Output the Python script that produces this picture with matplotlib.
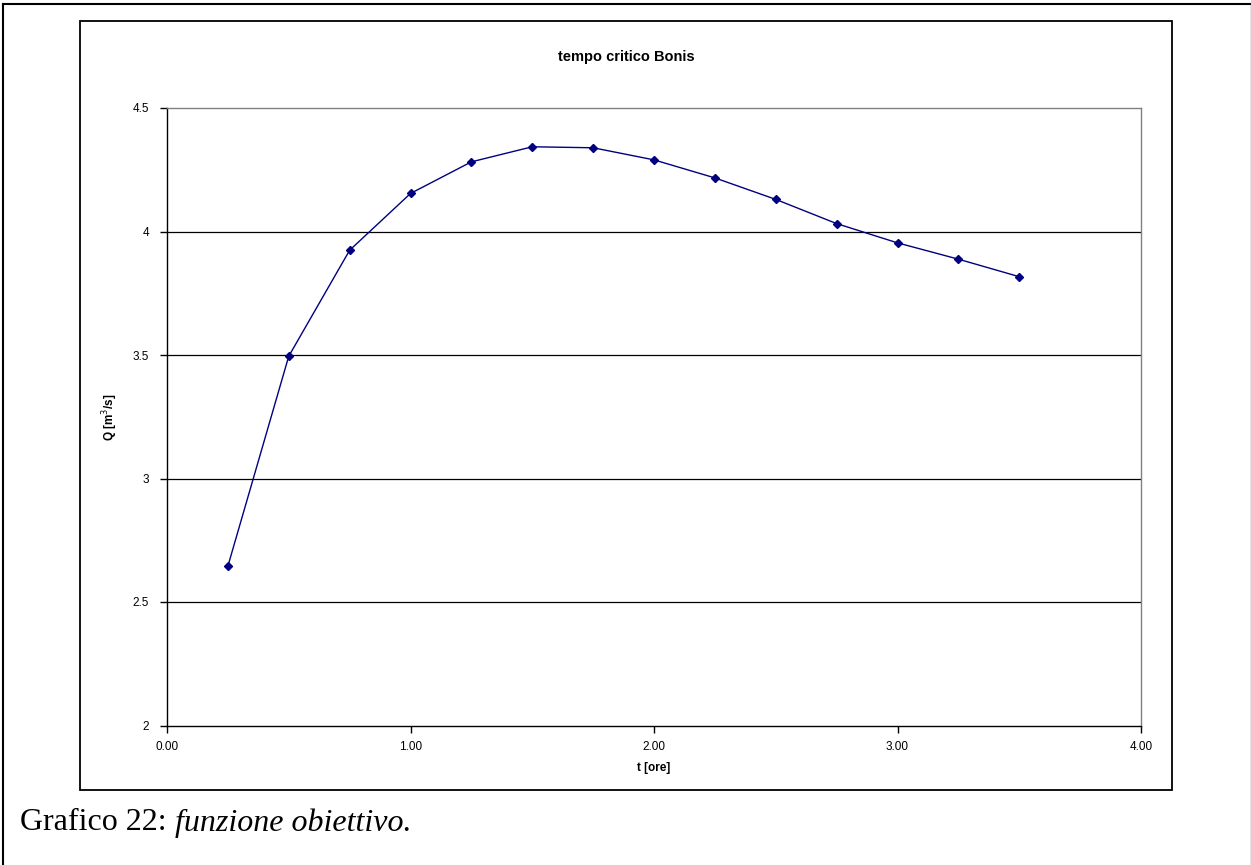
import matplotlib
matplotlib.use('Agg')
from matplotlib import pyplot as plt
from matplotlib.lines import Line2D
import numpy as np

########
# DATA #
########

t_ore = [0.25, 0.50, 0.75, 1.00, 1.25, 1.50, 1.75,
         2.00, 2.25, 2.50, 2.75, 3.00, 3.25, 3.50]
Q = [2.645, 3.495, 3.924, 4.154, 4.282, 4.343, 4.339,
     4.290, 4.217, 4.130, 4.032, 3.954, 3.888, 3.817]

xticks = [0, 1, 2, 3, 4]
xticklabels = ['0.00', '1.00', '2.00', '3.00', '4.00']
yticks = [2, 2.5, 3, 3.5, 4, 4.5]
yticklabels = ['2', '2.5', '3', '3.5', '4', '4.5']

title = 'tempo critico Bonis'
xlabel = 't [ore]'
ylabel = 'Q [m$^3$/s]'

W, H = 1251, 865

plt.rcParams['font.family'] = ['Liberation Sans', 'DejaVu Sans']
fig = plt.figure(figsize=(W/100., H/100.), dpi=100)

def fx(px):
    return px / W

def fy(py):
    return 1 - py / H

# page frame (left, top, right; bottom runs off the page)
fig.add_artist(Line2D([fx(3), fx(3)], [fy(4), 0], color='k', lw=1.5))
fig.add_artist(Line2D([fx(3), fx(1250.5)], [fy(4), fy(4)], color='k', lw=1.5))
fig.add_artist(Line2D([fx(1250.5), fx(1250.5)], [fy(4), 0], color='.45', lw=1.0))

# chart area frame
fig.add_artist(plt.Rectangle((fx(80), fy(790)), fx(1172) - fx(80), fy(21) - fy(790),
                             fill=False, edgecolor='k', lw=1.3))

ax = fig.add_axes([fx(167), fy(725.5), fx(1141) - fx(167), fy(108) - fy(725.5)])
ax.plot(t_ore, Q, '-', color='#000080', lw=1.0, marker='D', markersize=4.5,
        markerfacecolor='#000080', markeredgecolor='#000080', zorder=3)

ax.set_xlim(0, 4)
ax.set_ylim(2, 4.5)
ax.set_xticks(xticks)
ax.set_xticklabels(xticklabels)
ax.set_yticks(yticks)
ax.set_yticklabels(yticklabels)
ax.tick_params(direction='out', length=5, width=1, labelsize=8.5, colors='k')
ax.tick_params(axis='y', pad=8)
ax.tick_params(axis='x', pad=6)

for y in yticks[1:-1]:
    ax.axhline(y, color='k', lw=0.9, zorder=1)
ax.spines['left'].set_color('k')
ax.spines['bottom'].set_color('k')
ax.spines['top'].set_color('.5')
ax.spines['right'].set_color('.5')
for s in ax.spines.values():
    s.set_linewidth(1.0)

ax.set_xlabel(xlabel, fontsize=8.5, fontweight='bold', labelpad=7)
ax.set_ylabel(ylabel, fontsize=8.5, fontweight='bold', labelpad=9)

fig.text(fx(626), fy(57), title, fontsize=10.5, fontweight='bold',
         ha='center', va='center')

# caption under the chart
cap1 = fig.text(fx(20), fy(823), 'Grafico 22: ', fontsize=23,
                family='Liberation Serif', ha='left', va='center')
fig.canvas.draw()
bb = cap1.get_window_extent()
fig.text(bb.x1 / W, fy(823), 'funzione obiettivo.', fontsize=23,
         family='Liberation Serif', style='italic', ha='left', va='center')

plt.savefig('out.png', dpi=100)
plt.close()
